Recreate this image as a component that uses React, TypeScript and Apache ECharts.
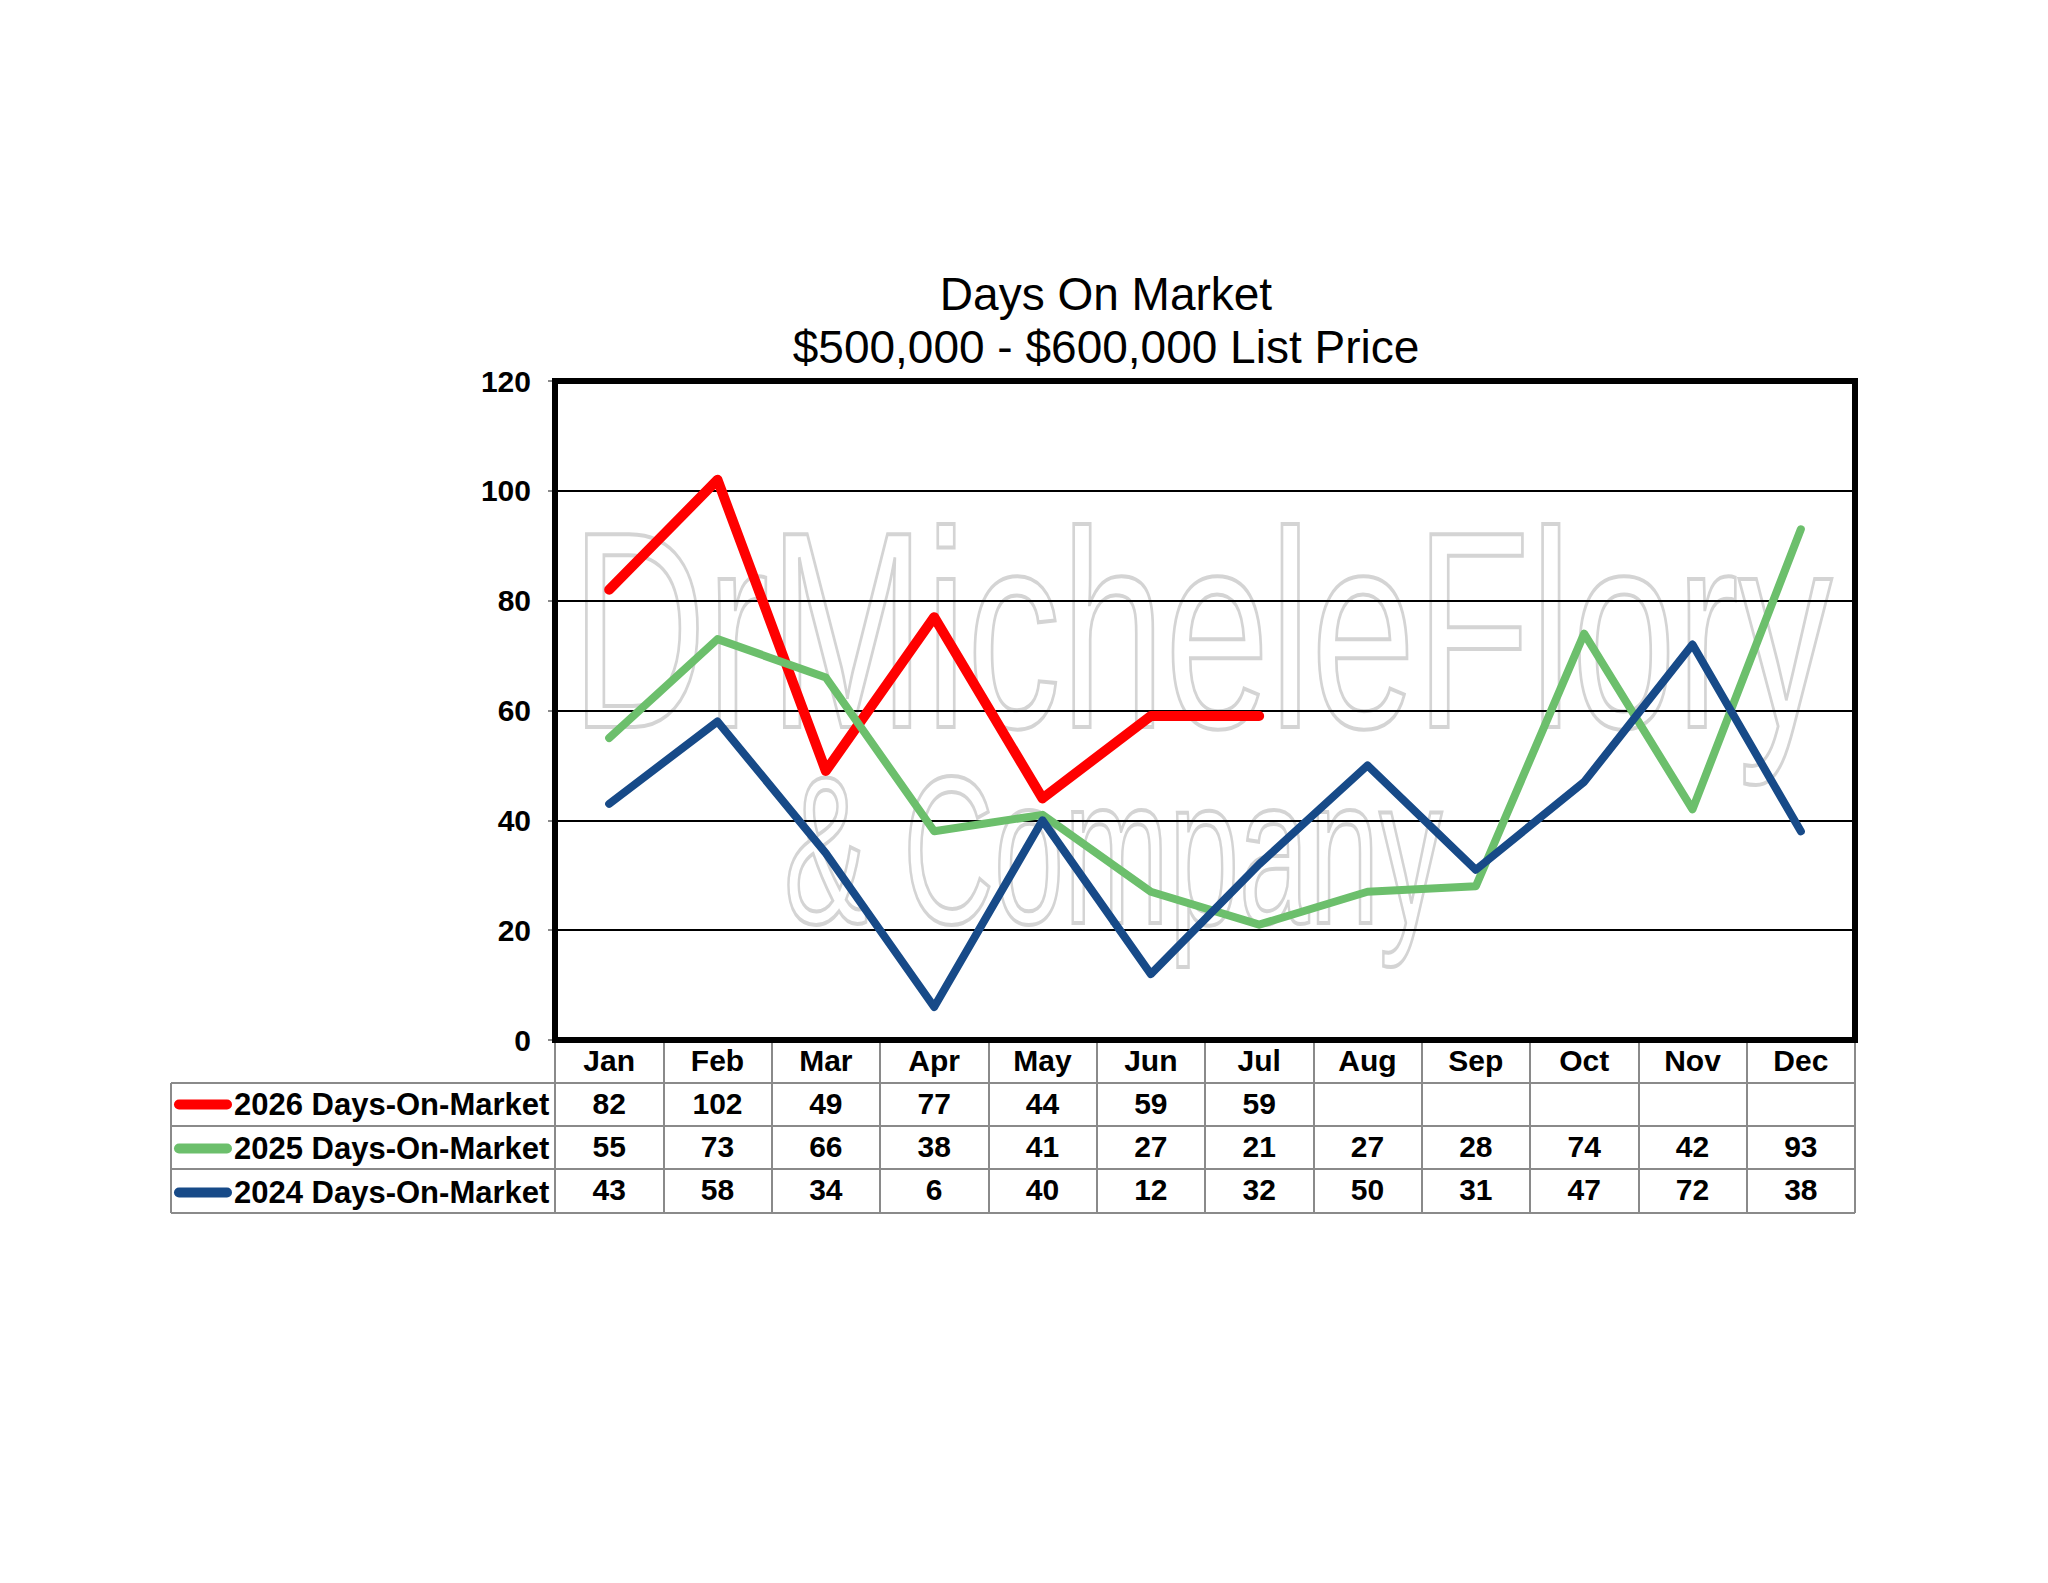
import React, { useEffect, useRef } from "react";
import * as echarts from "echarts";

const months = ["Jan", "Feb", "Mar", "Apr", "May", "Jun", "Jul", "Aug", "Sep", "Oct", "Nov", "Dec"];
const dom2026: (number | null)[] = [82, 102, 49, 77, 44, 59, 59, null, null, null, null, null];
const dom2025: number[] = [55, 73, 66, 38, 41, 27, 21, 27, 28, 74, 42, 93];
const dom2024: number[] = [43, 58, 34, 6, 40, 12, 32, 50, 31, 47, 72, 38];
const seriesNames = ["2026 Days-On-Market", "2025 Days-On-Market", "2024 Days-On-Market"];
const seriesColors = ["#FF0000", "#6CBF6C", "#174A88"];
const titleLines = ["Days On Market", "$500,000 - $600,000 List Price"];

const FONT = "'Liberation Sans', Arial, Helvetica, sans-serif";

export default function App() {
  const ref = useRef<HTMLDivElement>(null);
  useEffect(() => {
    if (!ref.current) return;
    const chart = echarts.init(ref.current, undefined, { renderer: "svg" });
    const W = 2048;
    const H = 1583;
    const gridL = 555, gridR = 1855, gridT = 381, gridB = 1040;
    const rowLines = [1083, 1126, 1169, 1213];
    const tableLeft = 171;
    const allSeries = [dom2026, dom2025, dom2024];
    const widths = [10, 8, 8];

    const labelStyle = { fontFamily: FONT, fontWeight: "bold" as const, fontSize: 30, color: "#000" };

    const rowAxes = allSeries.map((arr, i) => ({
      type: "category" as const,
      gridIndex: 0,
      position: "bottom" as const,
      offset: rowLines[i] - gridB,
      data: arr.map((v) => (v === null ? "" : String(v))),
      axisLine: { show: false },
      axisTick: { show: false },
      axisLabel: { ...labelStyle, interval: 0, margin: 5 },
      splitLine: { show: false },
    }));

    const hLines = rowLines.map((y) => ({
      type: "line",
      z: 10,
      shape: { x1: tableLeft, y1: y, x2: gridR, y2: y },
      style: { stroke: "#8a8a8a", lineWidth: 2 },
    }));

    chart.setOption({
      animation: false,
      backgroundColor: "#fff",
      grid: {
        left: gridL,
        right: W - gridR,
        top: gridT,
        bottom: H - gridB,
        show: true,
        borderColor: "#000",
        borderWidth: 6,
        backgroundColor: "transparent",
        z: 3,
      },
      legend: {
        orient: "vertical",
        left: 169,
        top: 1084,
        itemGap: 13,
        itemWidth: 58,
        itemHeight: 11,
        selectedMode: false,
        icon: "path://M5,0 H53 A5,5 0 0 1 53,10 H5 A5,5 0 0 1 5,0 Z",
        textStyle: { ...labelStyle, fontSize: 31, padding: [0, 0, 0, -3] },
        data: seriesNames,
      },
      xAxis: [
        {
          type: "category",
          gridIndex: 0,
          data: months,
          boundaryGap: true,
          axisLine: { show: false },
          axisTick: {
            show: true,
            interval: 0,
            length: rowLines[3] - gridB,
            lineStyle: { color: "#8a8a8a", width: 2 },
          },
          axisLabel: { ...labelStyle, interval: 0, margin: 5 },
          splitLine: { show: false },
        },
        ...rowAxes,
      ],
      yAxis: {
        type: "value",
        min: 0,
        max: 120,
        interval: 20,
        axisLine: { show: false },
        axisTick: { show: true, length: 7, lineStyle: { color: "#8a8a8a", width: 2 } },
        axisLabel: { ...labelStyle, margin: 24 },
        splitLine: { show: true, lineStyle: { color: "#000", width: 2 } },
      },
      graphic: [
        {
          type: "group",
          z: 1,
          silent: true,
          children: [
            {
              type: "text",
              x: 571,
              y: 490,
              scaleX: 0.67,
              style: {
                text: "DrMicheleFlory",
                font: `280px ${FONT}`,
                fill: "none",
                stroke: "#d4d4d4",
                lineWidth: 4,
                textAlign: "left",
                textVerticalAlign: "top",
              },
            },
            {
              type: "text",
              x: 784,
              y: 745,
              scaleX: 0.6,
              style: {
                text: "& Company",
                font: `210px ${FONT}`,
                fill: "none",
                stroke: "#d4d4d4",
                lineWidth: 4,
                textAlign: "left",
                textVerticalAlign: "top",
              },
            },
          ],
        },
        {
          type: "text",
          x: 1106,
          y: 294,
          style: {
            text: titleLines[0],
            font: `46px ${FONT}`,
            fill: "#000",
            textAlign: "center",
            textVerticalAlign: "middle",
          },
        },
        {
          type: "text",
          x: 1106,
          y: 347,
          style: {
            text: titleLines[1],
            font: `46px ${FONT}`,
            fill: "#000",
            textAlign: "center",
            textVerticalAlign: "middle",
          },
        },
        ...hLines,
        {
          type: "line",
          z: 10,
          shape: { x1: tableLeft, y1: rowLines[0], x2: tableLeft, y2: rowLines[3] },
          style: { stroke: "#8a8a8a", lineWidth: 2 },
        },
      ],
      series: allSeries.map((arr, i) => ({
        name: seriesNames[i],
        type: "line",
        xAxisIndex: 0,
        yAxisIndex: 0,
        data: arr,
        symbol: "none",
        z: 5,
        connectNulls: false,
        itemStyle: { color: seriesColors[i] },
        lineStyle: { color: seriesColors[i], width: widths[i], cap: "round", join: "round" },
      })),
    });
    return () => chart.dispose();
  }, []);
  return (
    <div
      ref={ref}
      style={{ position: "absolute", left: 0, top: 0, width: 2048, height: 1583, background: "#fff" }}
    />
  );
}
